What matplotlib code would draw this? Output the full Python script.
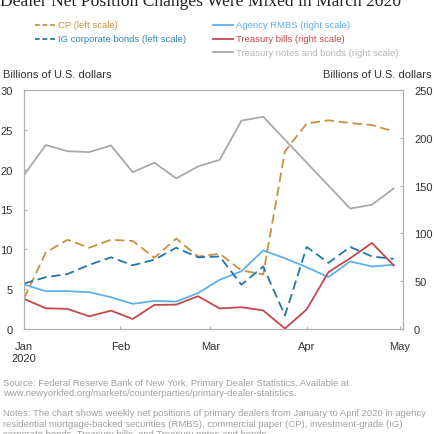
import matplotlib
matplotlib.use("Agg")
import matplotlib.pyplot as plt
from matplotlib.lines import Line2D
import pandas as pd

plt.rcParams['font.family'] = ['Liberation Sans', 'DejaVu Sans']

# weekly dates (Wednesdays), Jan 1 - Apr 29 2020
dates = pd.date_range('2020-01-01', periods=18, freq='7D')

# left scale, billions of U.S. dollars
cp = [3.8, 9.6, 11.2, 10.2, 11.2, 11.05, 8.95, 11.35, 9.1, 9.45, 7.35, 6.85,
      22.3, 25.8, 26.2, 25.85, 25.6, 24.8]
ig_bonds = [5.7, 6.5, 6.9, 8.05, 9.0, 8.0, 8.7, 10.2, 9.0, 9.1, 5.55, 7.85,
            1.7, 10.3, 8.3, 10.3, 9.1, 8.8]

# right scale, billions of U.S. dollars
rmbs = [46.5, 39.6, 39.6, 38.5, 33.3, 26.3, 29.4, 28.7, 37.5, 51.5, 60.4, 82.2,
        74.0, 64.6, 54.3, 70.7, 65.4, 67.2]
bills = [31.5, 21.7, 21.0, 13.3, 19.2, 10.5, 25.2, 25.5, 34.3, 21.5, 22.8, 19.4,
         0.5, 20.5, 59.5, 74.0, 90.0, 66.5]
notes_bonds = [161, 192.5, 186, 185, 192, 164, 174, 157.5, 170, 177, 218, 222,
               198, 174, 150, 126, 130, 147]

tick_dates = pd.to_datetime(['2020-01-01', '2020-02-01', '2020-03-01',
                             '2020-04-01', '2020-05-01'])
tick_labels = ['Jan\n2020', 'Feb', 'Mar', 'Apr', 'May']

c_cp = '#C8913C'
c_ig = '#1F78A8'
c_rmbs = '#5DB0EA'
c_bills = '#C4474A'
c_nb = '#A8A8AE'
c_spine = '#B0B0B0'
c_text = '#333333'

fig = plt.figure(figsize=(4.35, 4.35), dpi=100)
ax = fig.add_axes([24 / 435, 1 - 330 / 435, (403 - 24) / 435, (330 - 91) / 435])
ax2 = ax.twinx()

dash = (5.2, 2.6)
lw = 1.3
ax2.plot(dates, notes_bonds, color=c_nb, lw=lw)
ax2.plot(dates, rmbs, color=c_rmbs, lw=lw)
ax2.plot(dates, bills, color=c_bills, lw=lw)
ax.plot(dates, cp, color=c_cp, lw=lw, dashes=dash)
ax.plot(dates, ig_bonds, color=c_ig, lw=lw, dashes=dash)

# left-scale lines drawn on top
ax.set_zorder(ax2.get_zorder() + 1)
ax.patch.set_visible(False)

ax.set_xlim(pd.Timestamp('2020-01-01'), pd.Timestamp('2020-05-02'))
ax.set_ylim(0, 30)
ax2.set_ylim(0, 250)
ax.set_yticks([0, 5, 10, 15, 20, 25, 30])
ax2.set_yticks([0, 50, 100, 150, 200, 250])
ax.set_xticks(tick_dates)
ax.set_xticklabels(tick_labels)

for a in (ax, ax2):
    for s in a.spines.values():
        s.set_color(c_spine)
        s.set_linewidth(0.8)
    a.tick_params(direction='in', length=2.5, width=0.8, color=c_spine,
                  labelsize=8, labelcolor=c_text)
ax.tick_params(axis='y', pad=8)
ax2.tick_params(axis='y', pad=8)
ax.tick_params(axis='x', pad=9)

fig.text(2.7 / 435, 1 - 75 / 435, 'Billions of U.S. dollars', fontsize=8,
         color=c_text, va='center', ha='left')
fig.text(432 / 435, 1 - 75 / 435, 'Billions of U.S. dollars', fontsize=8,
         color=c_text, va='center', ha='right')

# title, partly cut off at the top edge
fig.text(0, 1 - 6 / 435, 'Dealer Net Position Changes Were Mixed in March 2020',
         family='Liberation Serif', fontsize=12.6, color='#222222',
         va='baseline', ha='left')

# legend
leg = [
    (35, 26, c_cp, True, 'CP (left scale)', c_cp),
    (35, 40, c_ig, True, 'IG corporate bonds (left scale)', '#2E86BA'),
    (213, 26, c_rmbs, False, 'Agency RMBS (right scale)', c_rmbs),
    (213, 40, c_bills, False, 'Treasury bills (right scale)', c_bills),
    (213, 53, c_nb, False, 'Treasury notes and bonds (right scale)', '#B4B4B8'),
]
for x0, y0, col, dashed, label, tcol in leg:
    yy = 1 - y0 / 435
    ln = Line2D([x0 / 435, (x0 + 20) / 435], [yy, yy], color=col, lw=1.3,
                transform=fig.transFigure)
    if dashed:
        ln.set_dashes((2.6, 1.6))
    fig.add_artist(ln)
    fig.text((x0 + 23) / 435, yy, label, fontsize=6.8, color=tcol,
             va='center', ha='left')

foot = '#A0A0A0'
foot_lines = [
    (384, 'Source: Federal Reserve Bank of New York, Primary Dealer Statistics. Available at'),
    (394, 'www.newyorkfed.org/markets/counterparties/primary-dealer-statistics.'),
    (414, 'Notes: The chart shows weekly net positions of primary dealers from January to April 2020 in agency'),
    (425, 'residential mortgage-backed securities (RMBS), commercial paper (CP), investment-grade (IG)'),
    (435, 'corporate bonds, Treasury bills, and Treasury notes and bonds.'),
]
for yp, t in foot_lines:
    fig.text(3 / 435, 1 - yp / 435, t, fontsize=6.8, color=foot, va='center')

fig.savefig('out.png', dpi=100)
